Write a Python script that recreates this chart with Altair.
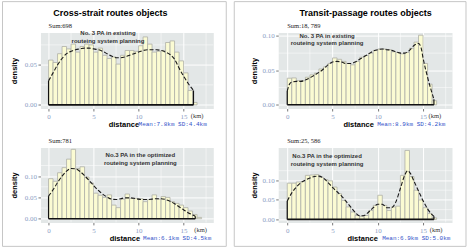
import altair as alt
import pandas as pd

BIN_W = 0.5
X_TICKS = [0, 5, 10, 15]
X_MINOR = [2.5, 7.5, 12.5, 17.5]

COL_TITLES = ["Cross-strait routes objects", "Transit-passage routes objects"]
SUMS = ["Sum:698", "Sum:18, 789", "Sum:781", "Sum:25, 586"]
NOTES = [
    "No. 3 PA in existing\nrouteing system planning",
    "No. 3 PA in existing\nrouteing system planning",
    "No.3 PA in the optimized\nrouteing system planning",
    "No.3 PA in the optimized\nrouteing system planning",
]
STATS = ["Mean:7.8km  SD:4.4km", "Mean:8.9km  SD:4.2km",
         "Mean:6.1km  SD:4.5km", "Mean:6.9km  SD:5.0km"]

# histogram densities, 0.5 km bins starting at 0
TL_BARS = [0.056, 0.053, 0.064, 0.073, 0.070, 0.076, 0.066, 0.073, 0.076, 0.075,
           0.066, 0.071, 0.062, 0.058, 0.060, 0.051, 0.062, 0.068, 0.068, 0.067,
           0.074, 0.085, 0.076, 0.066, 0.067, 0.068, 0.078, 0.080, 0.066, 0.055,
           0.040, 0.018, 0.003]
TL_CX = [0, 0.5, 1, 1.5, 2, 2.5, 3, 3.5, 4, 4.5, 5, 5.5, 6, 6.5, 7, 7.5, 8, 8.5,
         9, 9.5, 10, 10.5, 11, 11.5, 12, 12.5, 13, 13.5, 14, 14.5, 15, 15.5, 16.1]
TL_CY = [0.030, 0.040, 0.050, 0.058, 0.064, 0.067, 0.069, 0.070, 0.071, 0.071,
         0.070, 0.069, 0.067, 0.064, 0.061, 0.059, 0.059, 0.060, 0.062, 0.064,
         0.066, 0.068, 0.069, 0.069, 0.069, 0.068, 0.066, 0.063, 0.057, 0.046,
         0.036, 0.027, 0.018]

BL_BARS = [0.094, 0.088, 0.108, 0.120, 0.140, 0.163, 0.118, 0.122, 0.098, 0.084,
           0.060, 0.055, 0.050, 0.056, 0.032, 0.026, 0.046, 0.058, 0.048, 0.048,
           0.047, 0.040, 0.045, 0.056, 0.046, 0.052, 0.050, 0.040, 0.036, 0.032,
           0.026, 0.018, 0.010, 0.003]
BL_CX = [0, 0.5, 1, 1.5, 2, 2.5, 3, 3.5, 4, 4.5, 5, 5.5, 6, 6.5, 7, 7.5, 8, 8.5,
         9, 9.5, 10, 10.5, 11, 11.5, 12, 12.5, 13, 13.5, 14, 14.5, 15, 15.5, 16, 16.3]
BL_CY = [0.053, 0.068, 0.085, 0.100, 0.112, 0.118, 0.117, 0.111, 0.101, 0.090,
         0.078, 0.067, 0.058, 0.051, 0.046, 0.045, 0.047, 0.049, 0.049, 0.048,
         0.046, 0.045, 0.045, 0.046, 0.047, 0.047, 0.045, 0.041, 0.035, 0.028,
         0.021, 0.014, 0.009, 0.006]

TR_BARS = [0.0386, 0.0390, 0.035, 0.035, 0.040, 0.0435, 0.046, 0.052, 0.055, 0.060,
           0.068, 0.066, 0.063, 0.060, 0.058, 0.063, 0.069, 0.0715, 0.075, 0.079,
           0.081, 0.081, 0.080, 0.077, 0.076, 0.074, 0.076, 0.082, 0.091, 0.101,
           0.060, 0.030, 0.006]
TR_CX = [0, 0.25, 0.5, 1, 1.5, 2, 2.5, 3, 3.5, 4, 4.5, 5, 5.5, 6, 6.5, 7, 7.5, 8,
         8.5, 9, 9.5, 10, 10.5, 11, 11.5, 12, 12.5, 13, 13.5, 14, 14.5, 14.8, 15,
         15.5, 16.2]
TR_CY = [0.020, 0.030, 0.033, 0.034, 0.034, 0.036, 0.039, 0.043, 0.047, 0.052,
         0.058, 0.062, 0.063, 0.062, 0.060, 0.060, 0.062, 0.066, 0.070, 0.074,
         0.078, 0.080, 0.081, 0.080, 0.079, 0.077, 0.075, 0.075, 0.079, 0.086,
         0.089, 0.082, 0.068, 0.040, 0.008]

BR_BARS = [0.093, 0.093, 0.096, 0.097, 0.113, 0.114, 0.115, 0.108, 0.102, 0.099,
           0.083, 0.066, 0.049, 0.032, 0.019, 0.010, 0.008, 0.010, 0.023, 0.036,
           0.062, 0.036, 0.023, 0.032, 0.034, 0.113, 0.177, 0.110, 0.075, 0.050,
           0.030, 0.015, 0.004]
BR_CX = [0, 0.5, 1, 1.5, 2, 2.5, 3, 3.5, 4, 4.5, 5, 5.5, 6, 6.5, 7, 7.5, 8, 8.5,
         9, 9.5, 10, 10.5, 11, 11.5, 12, 12.5, 13, 13.3, 13.6, 14, 14.5, 15, 15.5,
         16, 16.2]
BR_CY = [0.047, 0.068, 0.083, 0.094, 0.101, 0.106, 0.110, 0.111, 0.106, 0.095,
         0.082, 0.071, 0.060, 0.046, 0.032, 0.018, 0.009, 0.010, 0.019, 0.030,
         0.039, 0.039, 0.030, 0.030, 0.045, 0.080, 0.115, 0.125, 0.118, 0.098,
         0.073, 0.048, 0.027, 0.012, 0.008]

LABEL_COLOR = "#8c9dc4"
SANS = "Liberation Sans"
SERIF = "Liberation Serif"
MONO = "Liberation Mono"


def panel(bars, cx, cy, xdom, ydom, yticks, yminor, w, h, sum_text, note,
          note_x, note_y, stat, stat_x, km_x, dist_x, ytitle_x, title=None,
          title_dx=0, frame=None):
    bar_df = pd.DataFrame({
        "x": [i * BIN_W for i in range(len(bars))],
        "x2": [(i + 1) * BIN_W for i in range(len(bars))],
        "y": bars,
    })
    curve_df = pd.DataFrame({"x": cx, "y": cy})
    edge_df = pd.DataFrame({"x": [cx[0], cx[-1]], "y": [0, 0], "y2": [cy[0], cy[-1]]})
    base_df = pd.DataFrame({"x": [cx[0]], "x2": [cx[-1]], "y": [0]})
    xs = alt.Scale(domain=xdom, nice=False, zero=False)
    ys = alt.Scale(domain=ydom, nice=False, zero=False)
    xaxis = alt.Axis(values=X_TICKS, title="distance", titleFont=SANS,
                     titleFontSize=7.5, titleFontWeight="bold", titleColor="black",
                     titleX=dist_x, titleY=16, titleBaseline="middle",
                     labelFont=SERIF, labelFontSize=7, labelColor=LABEL_COLOR,
                     labelPadding=1.5, tickColor="#555", tickSize=2.5, tickWidth=0.8,
                     domain=False, grid=True, gridColor="white", gridWidth=1)
    yaxis = alt.Axis(values=yticks, format=".2f", title="density", titleFont=SANS,
                     titleFontSize=7.5, titleFontWeight="bold", titleColor="black",
                     titleX=ytitle_x, titleBaseline="middle",
                     labelFont=SERIF, labelFontSize=7, labelColor=LABEL_COLOR,
                     labelPadding=1.5, tickColor="#555", tickSize=2.5, tickWidth=0.8,
                     domain=False, grid=True, gridColor="white", gridWidth=1)

    def X(f="x"):
        return alt.X(f + ":Q", scale=xs, axis=xaxis)

    def Y(f="y"):
        return alt.Y(f + ":Q", scale=ys, axis=yaxis)

    layers = []
    layers.append(alt.Chart(pd.DataFrame({"x": X_MINOR})).mark_rule(
        color="white", strokeWidth=0.5).encode(x=X()))
    layers.append(alt.Chart(pd.DataFrame({"y": yminor})).mark_rule(
        color="white", strokeWidth=0.5).encode(y=Y()))
    layers.append(alt.Chart(bar_df).mark_rect(
        fill="#fbfbd3", stroke="#aeb0a8", strokeWidth=0.8).encode(
        x=X(), x2="x2:Q", y=Y(), y2=alt.Y2(datum=0)))
    layers.append(alt.Chart(base_df).mark_rule(color="#111", strokeWidth=1.6).encode(
        x=X(), x2="x2:Q", y=Y()))
    layers.append(alt.Chart(edge_df).mark_rule(color="#111", strokeWidth=1.2).encode(
        x=X(), y=Y(), y2="y2:Q"))
    layers.append(alt.Chart(curve_df).mark_line(
        color="#1a1a1a", strokeWidth=1.1, strokeDash=[4, 2],
        interpolate="monotone").encode(x=X(), y=Y()))
    layers.append(alt.Chart(pd.DataFrame({"x": [note_x], "y": [note_y], "t": [note]})).mark_text(
        font=SANS, fontSize=6, fontWeight="bold", color="#333", lineBreak="\n",
        lineHeight=7.8, align="center", baseline="top").encode(
        x=X(), y=Y(), text="t:N"))
    layers.append(alt.Chart(pd.DataFrame({"x": [0], "t": [sum_text]})).mark_text(
        font=SERIF, fontSize=6.5, color="#222", align="left", baseline="middle").encode(
        x=X(), y=alt.value(-6.5), text="t:N"))
    layers.append(alt.Chart(pd.DataFrame({"x": [stat_x], "t": [stat]})).mark_text(
        font=MONO, fontSize=6, color="#3050c8", align="left", baseline="middle").encode(
        x=X(), y=alt.value(h + 16), text="t:N"))
    layers.append(alt.Chart(pd.DataFrame({"x": [km_x], "t": ["(km)"]})).mark_text(
        font=SERIF, fontSize=6.5, color="#333", align="left", baseline="middle").encode(
        x=X(), y=alt.value(h + 7.5), text="t:N"))
    if title is not None:
        layers.append(alt.Chart(pd.DataFrame({"t": [title]})).mark_text(
            font=SANS, fontSize=9, fontWeight="bold", color="black",
            align="center", baseline="middle").encode(
            x=alt.value(w / 2 + title_dx), y=alt.value(-20), text="t:N"))
    if frame is not None:
        fx, fx2, fy, fy2 = frame
        layers.append(alt.Chart(pd.DataFrame({"k": [0]})).mark_rect(
            filled=False, stroke="#c6c6c6", strokeWidth=1).encode(
            x=alt.value(fx), x2=alt.value(fx2), y=alt.value(fy), y2=alt.value(fy2)))

    return alt.layer(*layers).properties(width=w, height=h)


LW, RW = 173, 174
TH, BH = 76, 75
LDOM = [-0.9, 18.3]
RDOM = [-1.0, 18.2]

tl = panel(TL_BARS, TL_CX, TL_CY, LDOM, [-0.0046, 0.0904], [0, 0.05],
           [0.025, 0.075], LW, TH, SUMS[0], NOTES[0], 6.6, 0.0933, STATS[0], 10.0,
           15.8, 83, -26, title=COL_TITLES[0], title_dx=-16.5)
tr = panel(TR_BARS, TR_CX, TR_CY, RDOM, [-0.0054, 0.1048], [0, 0.05, 0.10],
           [0.025, 0.075], RW, TH, SUMS[1], NOTES[1], 4.4, 0.1048, STATS[1], 9.93,
           15.6, 80, -24, title=COL_TITLES[1], title_dx=0.5)
bl = panel(BL_BARS, BL_CX, BL_CY, LDOM, [-0.0087, 0.1674], [0, 0.05, 0.10],
           [0.025, 0.075, 0.125], LW, BH, SUMS[2], NOTES[2], 10.2, 0.1557, STATS[2], 10.5,
           16.2, 84, -26, frame=(-38, 186, -146, 99))
br = panel(BR_BARS, BR_CX, BR_CY, RDOM, [-0.0077, 0.1846], [0, 0.05, 0.10],
           [0.025, 0.075, 0.125], RW, BH, SUMS[3], NOTES[3], 4.4, 0.170, STATS[3], 10.48,
           15.75, 84, -24, frame=(-44, 188, -146, 99))

chart = alt.concat(tl, tr, bl, br, columns=2, spacing={"row": 39, "column": 65},
                   bounds="flush").properties(
    padding={"left": 1.5, "top": 0.5, "right": 2, "bottom": 1},
    background="white",
).configure_view(fill="#e3e7e7", stroke="transparent")

chart.save("out.html", embed_options={"renderer": "svg", "actions": False})
